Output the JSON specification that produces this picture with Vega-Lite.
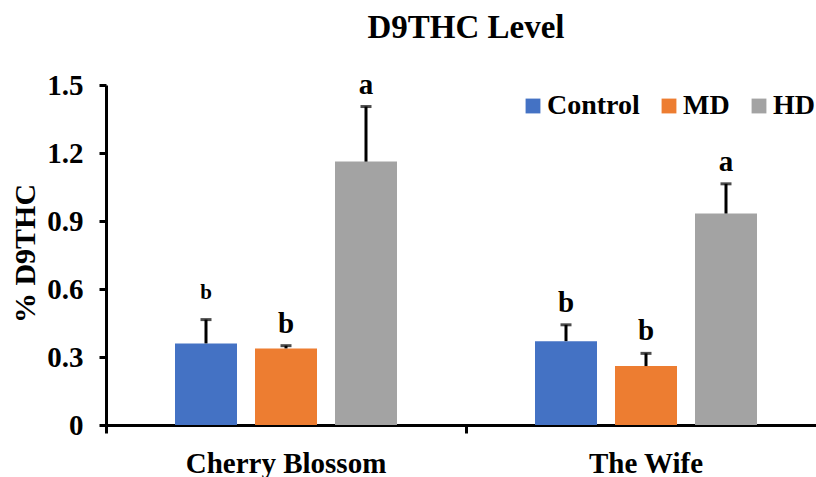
{
  "$schema": "https://vega.github.io/schema/vega-lite/v6.json",
  "autosize": {"type": "none"},
  "padding": {"left": 106, "top": 85, "right": 0, "bottom": 52},
  "width": 710,
  "height": 340,
  "title": {"text": "D9THC Level", "font": "Liberation Serif", "fontSize": 33, "fontWeight": "bold", "color": "black", "anchor": "middle", "offset": 26, "dx": 5},
  "config": {
    "view": {"stroke": null},
    "axis": {"domainColor": "black", "tickColor": "black", "labelColor": "black", "titleColor": "black", "labelFont": "Liberation Serif", "titleFont": "Liberation Serif", "labelFontWeight": "bold", "titleFontWeight": "bold", "grid": false}
  },
  "data": {"values": [
    {"strain": "Cherry Blossom", "group": "Control", "mean": 0.36, "upper": 0.465, "letter": "b"},
    {"strain": "Cherry Blossom", "group": "MD", "mean": 0.338, "upper": 0.35, "letter": "b"},
    {"strain": "Cherry Blossom", "group": "HD", "mean": 1.162, "upper": 1.405, "letter": "a"},
    {"strain": "The Wife", "group": "Control", "mean": 0.37, "upper": 0.442, "letter": "b"},
    {"strain": "The Wife", "group": "MD", "mean": 0.26, "upper": 0.316, "letter": "b"},
    {"strain": "The Wife", "group": "HD", "mean": 0.933, "upper": 1.064, "letter": "a"}
  ]},
  "encoding": {
    "x": {"field": "strain", "type": "nominal", "sort": ["Cherry Blossom", "The Wife"],
      "scale": {"paddingInner": 0, "paddingOuter": 0, "range": [0, 720]},
      "axis": {"title": null, "labelAngle": 0, "labelFontSize": 29, "labelLimit": 0, "domainWidth": 3, "tickWidth": 3, "tickSize": 8, "bandPosition": 0, "labelPadding": 16}},
    "xOffset": {"field": "group", "type": "nominal", "sort": ["Control", "MD", "HD"],
      "scale": {"paddingInner": 0.225, "paddingOuter": 0.8625}}
  },
  "layer": [
    {
      "mark": {"type": "bar"},
      "encoding": {
        "y": {"field": "mean", "type": "quantitative",
          "scale": {"domain": [0, 1.5], "nice": false},
          "axis": {"title": "% D9THC", "values": [0, 0.3, 0.6, 0.9, 1.2, 1.5], "labelExpr": "datum.value == 0 ? '0' : format(datum.value, '.1f')", "labelFontSize": 29, "titleFontSize": 30, "domainWidth": 3, "tickWidth": 3, "tickSize": 7, "labelPadding": 16, "titleAngle": -90, "titleX": -81, "titleY": 168, "titleBaseline": "middle", "titleAlign": "center"}},
        "color": {"field": "group", "type": "nominal", "sort": ["Control", "MD", "HD"],
          "scale": {"domain": ["Control", "MD", "HD"], "range": ["#4472C4", "#ED7D31", "#A3A3A3"]},
          "legend": {"title": null, "orient": "none", "legendX": 413, "legendY": 7, "direction": "horizontal", "symbolType": "square", "symbolSize": 220, "symbolStrokeWidth": 0, "symbolOpacity": 1, "labelFont": "Liberation Serif", "labelFontWeight": "bold", "labelFontSize": 28, "labelColor": "black", "labelOffset": 0, "columnPadding": 15}}
      }
    },
    {
      "mark": {"type": "rule", "color": "black", "strokeWidth": 3},
      "encoding": {"y": {"field": "mean", "type": "quantitative"}, "y2": {"field": "upper"}}
    },
    {
      "mark": {"type": "tick", "color": "black", "thickness": 3, "size": 11},
      "encoding": {"y": {"field": "upper", "type": "quantitative"}}
    },
    {
      "transform": [{"filter": "!(datum.strain == 'Cherry Blossom' && datum.group == 'Control')"}],
      "mark": {"type": "text", "font": "Liberation Serif", "fontWeight": "bold", "fontSize": 29, "baseline": "alphabetic", "dy": -13, "color": "black"},
      "encoding": {
        "y": {"field": "upper", "type": "quantitative"},
        "text": {"field": "letter"}
      }
    },
    {
      "transform": [{"filter": "datum.strain == 'Cherry Blossom' && datum.group == 'Control'"}],
      "mark": {"type": "text", "font": "Liberation Serif", "fontWeight": "bold", "fontSize": 21, "baseline": "alphabetic", "dy": -21, "color": "black"},
      "encoding": {
        "y": {"field": "upper", "type": "quantitative"},
        "text": {"field": "letter"}
      }
    }
  ]
}
